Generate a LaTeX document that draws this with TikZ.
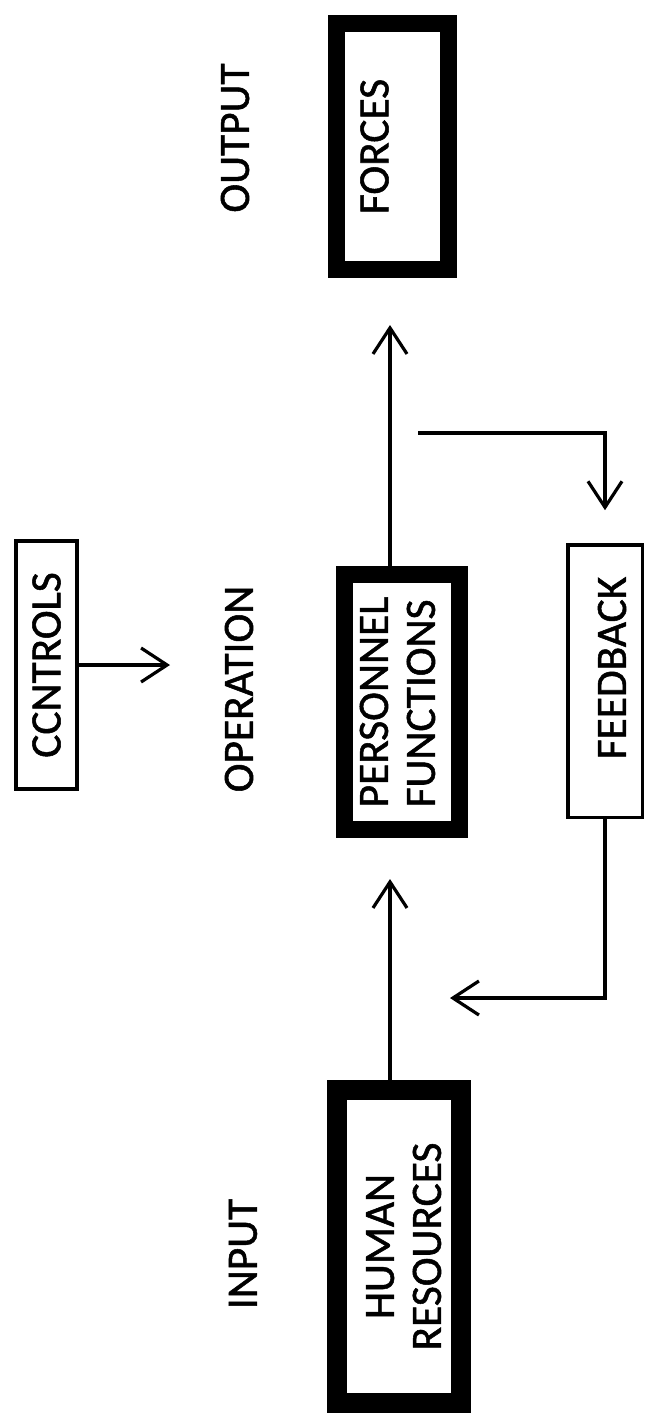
\documentclass[tikz,border=0pt]{standalone}
\usepackage{fontspec}
\setmainfont{Carlito}[FakeBold=1.2]
\usetikzlibrary{arrows.meta}
\begin{document}
\begin{tikzpicture}[x=0.5pt,y=-0.5pt,
  every node/.style={font=\fontsize{21.7pt}{23.5pt}\selectfont, inner sep=0pt},
  thickbox/.style={draw, rectangle, line width=8.5pt},
  thinbox/.style={draw, rectangle, line width=1.75pt},
  conn/.style={line width=1.6pt, -{Straight Barb[length=13pt,width=17pt]}},
  lbl/.style={rotate=90}]
\useasboundingbox (0,0) rectangle (645,1414);
% boxes
\node[thickbox, minimum width=56pt, minimum height=123pt] (forces) at (392.5,146.5)
  {\rotatebox{90}{FORCES}\kern18pt};
\node[thickbox, minimum width=57.5pt, minimum height=127.5pt] (pf) at (402,702)
  {\rotatebox{90}{\begin{tabular}{@{}l@{}}PERSONNEL\\FUNCTIONS\end{tabular}}};
\node[thickbox, line width=10pt, minimum width=62pt, minimum height=156.5pt] (hr) at (399,1246.5)
  {\kern9pt\rotatebox{90}{\begin{tabular}{@{}c@{}}HUMAN\\RESOURCES\end{tabular}}};
\node[thinbox, minimum width=30.5pt, minimum height=124pt] (ctrl) at (46.5,665)
  {\rotatebox{90}{CCNTROLS}};
\node[thinbox, minimum width=37.25pt, minimum height=136.25pt] (fb) at (605,681)
  {\kern7pt\rotatebox{90}{\kern13pt FEEDBACK}};
% stage labels
\node[lbl] (output) at (235,138) {OUTPUT};
\node[lbl] (operation) at (239,689) {OPERATION};
\node[lbl] (input) at (243,1254) {INPUT};
% connectors
\coordinate (sp) at (390,0);
\coordinate (fbstart) at (418,433);
\coordinate (fbend) at (450,998);
\coordinate (ctrlend) at (170,665);
\draw[conn, shorten >=20.5pt] (sp |- hr.north) -- (sp |- pf.south);
\draw[conn, shorten >=23.5pt] (sp |- pf.north) -- (sp |- forces.south);
\draw[conn, shorten >=16.4pt] (fbstart) -| (fb.north);
\draw[conn] (fb.south) |- (fbend);
\draw[conn] (ctrl.east) -- (ctrlend);
\end{tikzpicture}
\end{document}
